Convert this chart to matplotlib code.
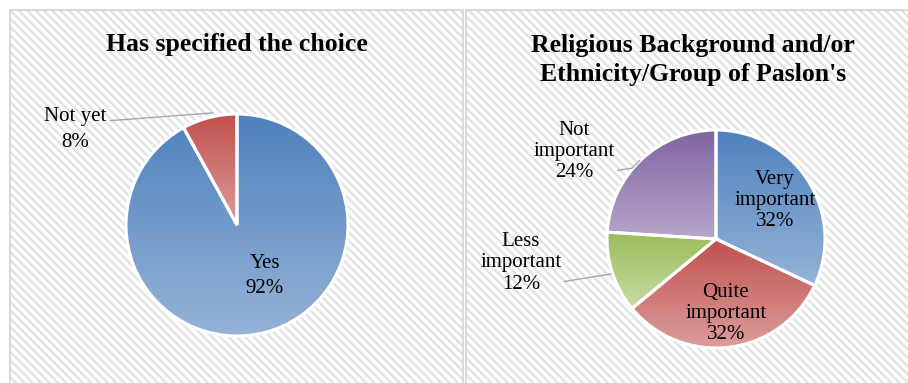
import numpy as np
import matplotlib
matplotlib.use('Agg')
import matplotlib.pyplot as plt
from matplotlib.patches import Rectangle
from matplotlib.colors import LinearSegmentedColormap

plt.rcParams['font.family'] = ['Liberation Serif', 'DejaVu Serif']
plt.rcParams['hatch.linewidth'] = 1.7

W, H = 908, 383

# data
left_labels = ['Yes', 'Not yet']
left_values = [92, 8]
right_labels = ['Very\nimportant', 'Quite\nimportant', 'Less\nimportant', 'Not\nimportant']
right_values = [32, 32, 12, 24]

left_title = 'Has specified the choice'
right_title = "Religious Background and/or\nEthnicity/Group of Paslon's"

GRAD = [('#4f81bd', '#95b3d7'),
        ('#c0504d', '#dc9e9c'),
        ('#9bbb59', '#c8dba3'),
        ('#8064a2', '#b7a7cb')]


def px_axes(fig, cx, cy, r):
    # cx, cy in pixels from top-left
    ax = fig.add_axes([(cx - r) / W, (H - cy - r) / H, 2 * r / W, 2 * r / H])
    ax.set_xlim(-1, 1)
    ax.set_ylim(-1, 1)
    ax.set_aspect('equal')
    ax.axis('off')
    return ax


def panel(fig, x0, y0, x1, y1):
    rect = Rectangle((x0 / W, 1 - y1 / H), (x1 - x0) / W, (y1 - y0) / H,
                     transform=fig.transFigure, facecolor='white',
                     edgecolor='#e3e3e3', hatch='\\\\\\\\', lw=0, zorder=0)
    fig.add_artist(rect)
    border = Rectangle((x0 / W, 1 - y1 / H), (x1 - x0) / W, (y1 - y0) / H,
                       transform=fig.transFigure, facecolor='none',
                       edgecolor='#d4d4d4', lw=1.2, zorder=0.5)
    fig.add_artist(border)


def gradient_pie(ax, values, colors):
    wedges, _ = ax.pie(values, startangle=90, counterclock=False, radius=1,
                       wedgeprops=dict(edgecolor='white', linewidth=2.2))
    for w, (c0, c1) in zip(wedges, colors):
        ext = w.get_path().get_extents()
        cmap = LinearSegmentedColormap.from_list('g', [c0, c1])
        grad = np.linspace(0, 1, 256).reshape(-1, 1)
        im = ax.imshow(grad, cmap=cmap, aspect='auto', origin='upper',
                       extent=[ext.x0, ext.x1, ext.y0, ext.y1], zorder=1)
        im.set_clip_path(w)
        w.set_facecolor('none')
        w.set_zorder(2)
    ax.set_xlim(-1, 1)
    ax.set_ylim(-1, 1)
    return wedges


fig = plt.figure(figsize=(W / 100, H / 100), dpi=100)

panel(fig, 10, 10, 463, 395)
panel(fig, 466, 10, 920, 395)

fig.text(237 / W, 1 - 45 / H, left_title, ha='center', va='center',
         fontsize=18.5, fontweight='bold')
fig.text(693 / W, 1 - 60 / H, right_title, ha='center', va='center',
         fontsize=18.5, fontweight='bold', linespacing=1.3)

# left pie
ax1 = px_axes(fig, 237, 225, 111)
gradient_pie(ax1, left_values, GRAD[:2])
ax1.text(0.25, -0.46, f'{left_labels[0]}\n{left_values[0]}%', ha='center',
         va='center', fontsize=15, linespacing=1.45, zorder=5)
ax1.text(-1.46, 0.86, f'{left_labels[1]}\n{left_values[1]}%', ha='center',
         va='center', fontsize=15, linespacing=1.45, zorder=5, clip_on=False)
ax1.plot([-1.14, -0.22], [0.94, 1.01], color='#a6a6a6', lw=1, clip_on=False)

# right pie
ax2 = px_axes(fig, 716, 239, 109)
gradient_pie(ax2, right_values, GRAD)
pos = [(0.54, 0.35), (0.09, -0.68), (-1.79, -0.22), (-1.30, 0.80)]
for lab, v, (x, y) in zip(right_labels, right_values, pos):
    ax2.text(x, y, f'{lab}\n{v}%', ha='center', va='center', fontsize=15,
             linespacing=1.15, zorder=5, clip_on=False)
ax2.plot([-1.39, -0.96], [-0.39, -0.32], color='#a6a6a6', lw=1, clip_on=False)
ax2.plot([-0.90, -0.77, -0.70], [0.63, 0.65, 0.72], color='#a6a6a6', lw=1,
         clip_on=False)

fig.savefig('out.png', dpi=100)
